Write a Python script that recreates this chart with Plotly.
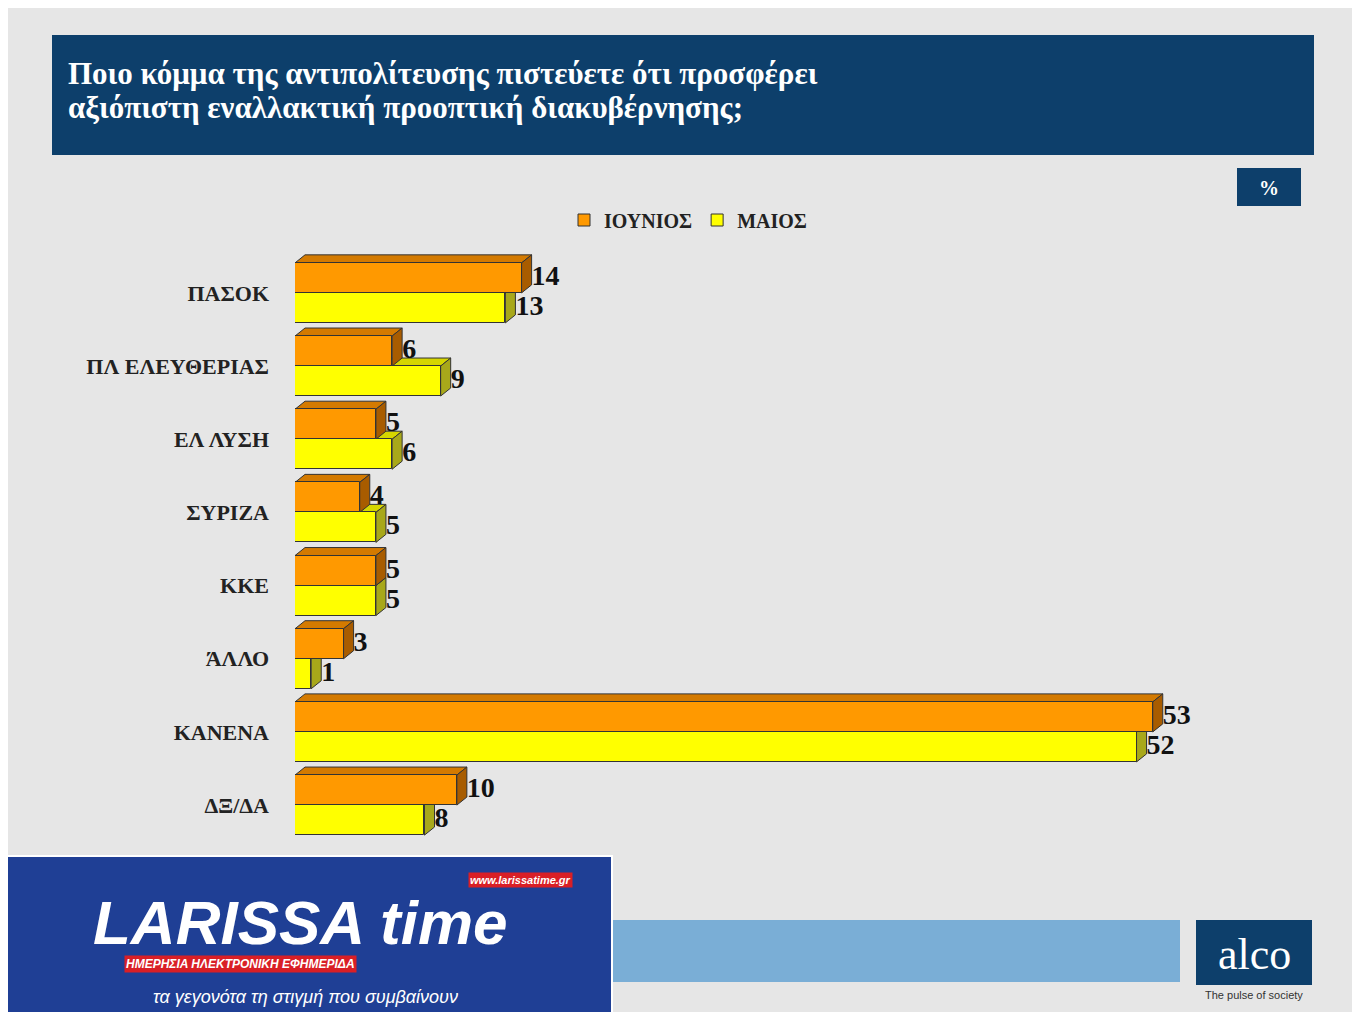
import plotly.graph_objects as go

categories = ["ΠΑΣΟΚ", "ΠΛ ΕΛΕΥΘΕΡΙΑΣ", "ΕΛ ΛΥΣΗ", "ΣΥΡΙΖΑ", "ΚΚΕ", "ΆΛΛΟ", "ΚΑΝΕΝΑ", "ΔΞ/ΔΑ"]
june = [14, 6, 5, 4, 5, 3, 53, 10]
may = [13, 9, 6, 5, 5, 1, 52, 8]

H = 0.41      # bar thickness (y units)
DX = 0.62     # 3D depth in x units
DY = 0.11     # 3D depth in y units
serif = "Liberation Serif"
OFF = 8       # page body margin

W, HT = 1360 - 2 * OFF, 1020 - 2 * OFF
L, R, T, B = 295 - OFF, 1266 - OFF, 249 - OFF, 849 - OFF

def px(x): return (x - 295) / 971
def py(y): return (849 - y) / 600

fig = go.Figure()
ys = list(range(len(categories)))

series = [
    ("ΜΑΙΟΣ", may, +H / 2, "#ffff00", "#d6d600", "#a8a81a"),
    ("ΙΟΥΝΙΟΣ", june, -H / 2, "#ff9900", "#d47a00", "#a85c00"),
]
shapes = []
for name, vals, off, front, top, side in series:
    fig.add_trace(go.Bar(
        x=vals, y=[y + off for y in ys], orientation="h", width=H, name=f"<b>{name}</b>",
        marker=dict(color=front, line=dict(color="#333", width=1)),
    ))
    for y, v in zip(ys, vals):
        y0, y1 = y + off - H / 2, y + off + H / 2
        shapes.append(dict(type="path", layer="below",
                           path=f"M 0 {y0} L {DX} {y0-DY} L {v+DX} {y0-DY} L {v} {y0} Z",
                           fillcolor=top, line=dict(color="#333", width=1)))
        shapes.append(dict(type="path", layer="below",
                           path=f"M {v} {y0} L {v+DX} {y0-DY} L {v+DX} {y1-DY} L {v} {y1} Z",
                           fillcolor=side, line=dict(color="#333", width=1)))
    fig.add_trace(go.Scatter(
        x=[v + DX for v in vals], y=[y + off for y in ys], mode="text",
        text=[f"<b>{v}</b>" for v in vals], textposition="middle right", showlegend=False,
        textfont=dict(family=serif, size=28, color="#111"), cliponaxis=False,
    ))

fig.update_layout(
    width=W, height=HT,
    paper_bgcolor="#e6e6e6", plot_bgcolor="rgba(0,0,0,0)",
    margin=dict(l=L, r=W - R, t=T, b=HT - B),
    barmode="overlay", bargap=0,
    shapes=shapes,
    showlegend=True,
    legend=dict(orientation="h", x=px(688), y=py(220), xanchor="center", yanchor="middle",
                traceorder="reversed", font=dict(family=serif, size=20, color="#222"),
                bgcolor="rgba(0,0,0,0)"),
    xaxis=dict(range=[0, 60], visible=False),
    yaxis=dict(range=[7.6, -0.6], tickvals=ys, ticktext=[f"<b>{c}</b>" for c in categories],
               showgrid=False, zeroline=False, ticks="", ticklabelstandoff=25,
               tickfont=dict(family=serif, size=22, color="#222")),
    font=dict(family=serif),
)

def rect(x0, x1, y0, y1, color, line=None):
    fig.add_shape(type="rect", xref="paper", yref="paper", x0=px(x0), x1=px(x1), y0=py(y1), y1=py(y0),
                  fillcolor=color, line=line or dict(width=0))

def text(x, y, s, size, color, family=serif, xanchor="center", **kw):
    fig.add_annotation(xref="paper", yref="paper", x=px(x), y=py(y), xanchor=xanchor, yanchor="middle",
                       showarrow=False, text=s, font=dict(family=family, size=size, color=color), **kw)

rect(52, 1314, 35, 155, "#0d3f6b")
text(66, 74, "<b>Ποιο κόμμα της αντιπολίτευσης πιστεύετε ότι προσφέρει</b>", 31, "white", xanchor="left")
text(66, 107, "<b>αξιόπιστη εναλλακτική προοπτική διακυβέρνησης;</b>", 31, "white", xanchor="left")
rect(1237, 1301, 168, 206, "#0d3f6b")
text(1269, 188, "<b>%</b>", 20, "white")
rect(612, 1180, 920, 982, "#7aaed6")
rect(1196, 1312, 920, 985, "#0d3f6b")
text(1254, 954, "alco", 44, "white")
text(1254, 995, "The pulse of society", 11, "#333", family="Liberation Sans")
rect(0, 612, 856, 1020, "#1f3f95", line=dict(color="white", width=2))
text(300, 922, "<b><i>LARISSA time</i></b>", 62, "white", family="Liberation Sans")
text(520, 880, "<b><i>www.larissatime.gr</i></b>", 11, "white", family="Liberation Sans", bgcolor="#d91f26")
text(240, 964, "<b><i>ΗΜΕΡΗΣΙΑ ΗΛΕΚΤΡΟΝΙΚΗ ΕΦΗΜΕΡΙΔΑ</i></b>", 12, "white", family="Liberation Sans", bgcolor="#d91f26")
text(305, 997, "<i>τα γεγονότα τη στιγμή που συμβαίνουν</i>", 18, "white", family="Liberation Sans")

fig.write_html("out.html")
